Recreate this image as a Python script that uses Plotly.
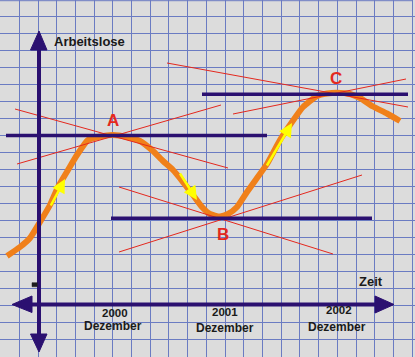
import plotly.graph_objects as go

# ---- data (pixel-space diagram coordinates) ----
curve_x = [7, 20, 30, 40, 50, 58, 68, 77, 88, 100, 113, 127, 140, 153, 163, 173, 183, 193, 202,
           210, 220, 228, 237, 247, 257, 267, 280, 292, 303, 317, 327, 337, 350, 360, 373, 387, 400]
curve_y = [256, 247, 238, 222, 205, 187, 170, 155, 140, 136.5, 135, 137, 141, 151, 161, 170, 182, 195, 207,
           214, 216.5, 214, 207, 192, 178, 164, 140, 122, 107, 96, 93.5, 92.7, 94, 98, 106.5, 113.5, 121]

# tangent (red) lines: x0, y0, x1, y1
red_x0 = [15, 17, 167, 233, 119, 119]
red_y0 = [109, 164, 63, 114, 187, 252]
red_x1 = [228, 221, 408, 406, 333, 362]
red_y1 = [168, 105, 107, 79, 254, 175]

# horizontal navy lines at extremes A, B, C
hline_y = [135.5, 218.3, 94.3]
hline_x0 = [6, 111, 202]
hline_x1 = [267, 372, 408]

# point labels
pt_labels = ["A", "B", "C"]
pt_x = [113.3, 222.5, 336.3]
pt_y = [120.5, 234.2, 78.3]

# yellow direction arrows: tail -> tip
arr_tail_x = [50, 179, 266]
arr_tail_y = [207, 172, 167]
arr_tip_x = [65, 197, 292]
arr_tip_y = [179, 200, 123]

# axis geometry
yaxis_x = 39
yaxis_top, yaxis_bot = 31, 352
xaxis_y = 304.5
xaxis_left, xaxis_right = 12, 394

# time tick labels
year_labels = ["2000", "2001", "2002"]
year_x = [115, 225, 339]
year_y = [312.8, 312.3, 309.8]
month_x = [113, 225, 337]
month_y = [325.8, 328, 326.5]

NAVY = "#2B1070"
RED = "#E4281E"
ORANGE = "#F0801A"
GRID = "#6A7BC2"
BG = "#DCDCDC"
FONT = "Arial, Liberation Sans, sans-serif"

fig = go.Figure()

# orange curve
fig.add_trace(go.Scatter(x=curve_x, y=curve_y, mode="lines",
                         line=dict(color=ORANGE, width=6, shape="spline", smoothing=0.5),
                         hoverinfo="skip"))

# red tangent lines
for a, b, c, d in zip(red_x0, red_y0, red_x1, red_y1):
    fig.add_trace(go.Scatter(x=[a, c], y=[b, d], mode="lines",
                             line=dict(color=RED, width=1), hoverinfo="skip"))

# navy horizontal lines
for yy, a, b in zip(hline_y, hline_x0, hline_x1):
    fig.add_trace(go.Scatter(x=[a, b], y=[yy, yy], mode="lines",
                             line=dict(color=NAVY, width=3.5), hoverinfo="skip"))

# axes lines
fig.add_trace(go.Scatter(x=[yaxis_x, yaxis_x], y=[yaxis_top + 10, yaxis_bot - 10], mode="lines",
                         line=dict(color=NAVY, width=4), hoverinfo="skip"))
fig.add_trace(go.Scatter(x=[xaxis_left + 10, xaxis_right - 10], y=[xaxis_y, xaxis_y], mode="lines",
                         line=dict(color=NAVY, width=4), hoverinfo="skip"))

# arrow heads of axes (filled triangles)
tri = [
    ([yaxis_x, yaxis_x - 8.5, yaxis_x + 8], [yaxis_top, yaxis_top + 19, yaxis_top + 19]),
    ([yaxis_x, yaxis_x - 8.5, yaxis_x + 8], [yaxis_bot, yaxis_bot - 18, yaxis_bot - 18]),
    ([xaxis_left, xaxis_left + 20, xaxis_left + 20], [xaxis_y, xaxis_y - 8.5, xaxis_y + 8]),
    ([xaxis_right, xaxis_right - 19, xaxis_right - 19], [xaxis_y, xaxis_y - 8.5, xaxis_y + 8.5]),
]
for tx, ty in tri:
    fig.add_trace(go.Scatter(x=tx + [tx[0]], y=ty + [ty[0]], mode="lines", fill="toself",
                             fillcolor=NAVY, line=dict(color=NAVY, width=1), hoverinfo="skip"))

# small mark on y axis
fig.add_trace(go.Scatter(x=[32, 37.3, 37.3, 32, 32], y=[282.7, 282.7, 286.7, 286.7, 282.7],
                         mode="lines", fill="toself", fillcolor="#1E1E1E",
                         line=dict(color="#1E1E1E", width=0.5), hoverinfo="skip"))

# top border line
fig.add_trace(go.Scatter(x=[0, 412.5], y=[0.7, 0.7], mode="lines",
                         line=dict(color=GRID, width=1), hoverinfo="skip"))

annotations = []
# yellow arrows
for tx, ty, hx, hy in zip(arr_tail_x, arr_tail_y, arr_tip_x, arr_tip_y):
    annotations.append(dict(x=hx, y=hy, ax=tx, ay=ty, xref="x", yref="y", axref="x", ayref="y",
                            showarrow=True, arrowhead=2, arrowwidth=2.5, arrowsize=1.1,
                            arrowcolor="#FFFF00", text=""))
# point labels
for t, x, y in zip(pt_labels, pt_x, pt_y):
    annotations.append(dict(x=x, y=y, text="<b>%s</b>" % t, showarrow=False, xref="x", yref="y",
                            font=dict(family=FONT, size=17, color=RED),
                            xanchor="center", yanchor="middle"))
# axis titles
annotations.append(dict(x=52, y=41, text="<b>Arbeitslose</b>", showarrow=False, xref="x", yref="y",
                        font=dict(family=FONT, size=13, color="#1A1A1A"),
                        xanchor="left", yanchor="middle"))
annotations.append(dict(x=371, y=281.5, text="<b>Zeit</b>", showarrow=False, xref="x", yref="y",
                        font=dict(family=FONT, size=13, color="#1A1A1A"),
                        xanchor="center", yanchor="middle"))
for t, x, y in zip(year_labels, year_x, year_y):
    annotations.append(dict(x=x, y=y, text="<b>%s</b>" % t, showarrow=False, xref="x", yref="y",
                            font=dict(family=FONT, size=11.5, color="#1A1A1A"),
                            xanchor="center", yanchor="middle"))
for x, y in zip(month_x, month_y):
    annotations.append(dict(x=x, y=y, text="<b>Dezember</b>", showarrow=False, xref="x", yref="y",
                            font=dict(family=FONT, size=12, color="#1A1A1A"),
                            xanchor="center", yanchor="middle"))

fig.update_layout(
    width=415, height=357,
    margin=dict(l=0, r=0, t=0, b=0, pad=0),
    paper_bgcolor=BG, plot_bgcolor=BG,
    showlegend=False,
    annotations=annotations,
    xaxis=dict(range=[0, 415], showgrid=True, gridcolor=GRID, gridwidth=1,
               tick0=0.6, dtick=18.71, zeroline=False, showticklabels=False, ticks="",
               fixedrange=True),
    yaxis=dict(range=[357, 0], showgrid=True, gridcolor=GRID, gridwidth=1,
               tick0=16, dtick=17, zeroline=False, showticklabels=False, ticks="",
               fixedrange=True),
)

fig.write_html("out.html", config={"displayModeBar": False})
